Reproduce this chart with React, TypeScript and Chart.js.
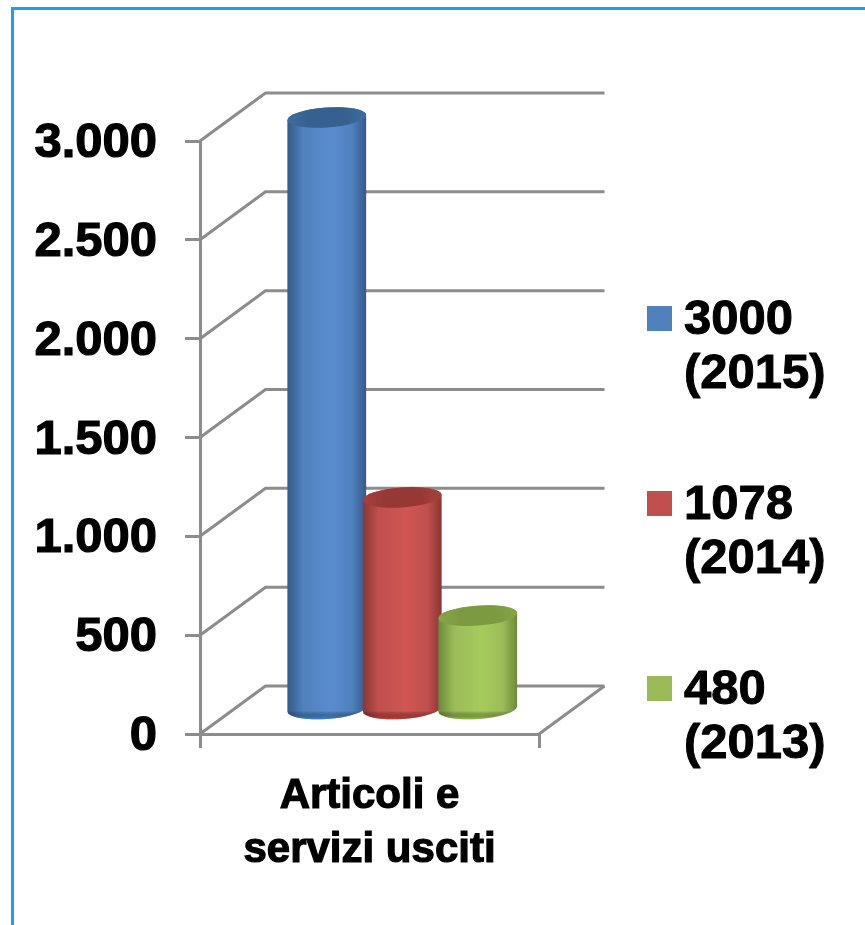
import React, { useEffect, useRef } from "react";
import { Chart, registerables } from "chart.js";

Chart.register(...registerables);

const categories: (string | string[])[] = [["Articoli e", "servizi usciti"]];
const seriesNames = ["2015", "2014", "2013"];
const values2015 = [3000];
const values2014 = [1078];
const values2013 = [480];
const legendLines = [
  ["3000", "(2015)"],
  ["1078", "(2014)"],
  ["480", "(2013)"],
];
const baseColors = ["#4f81bd", "#c0504d", "#9bbb59"];
const edgeColors = ["#35598a", "#8b3533", "#6d8a3a"];
const midColors = ["#5a8dd0", "#d05652", "#a6cc5c"];
const capColors = ["#3f6c9f", "#a8403d", "#86a646"];
const capDarkColors = ["#36608f", "#983836", "#7c9a40"];
const rimColors = ["#3f93e6", "#d8403c", "#9fd04e"];
const yTicks = { min: 0, max: 3000, stepSize: 500 };

const DEPTH_X = 65.5;
const DEPTH_Y = -48;
const GRID = "#8c8c8c";
const FONT = "'Liberation Sans', Arial, sans-serif";

const depthPlugin = {
  id: "depth",
  beforeDatasetsDraw(chart: any) {
    const { ctx, chartArea, scales } = chart;
    ctx.save();
    ctx.strokeStyle = GRID;
    ctx.lineWidth = 3;
    ctx.lineJoin = "round";
    scales.y.ticks.forEach((t: any) => {
      const y = scales.y.getPixelForValue(t.value);
      ctx.beginPath();
      ctx.moveTo(chartArea.left, y);
      ctx.lineTo(chartArea.left + DEPTH_X, y + DEPTH_Y);
      ctx.lineTo(chartArea.right + DEPTH_X, y + DEPTH_Y);
      ctx.stroke();
    });
    const y0 = scales.y.getPixelForValue(0);
    ctx.beginPath();
    ctx.moveTo(chartArea.right, y0);
    ctx.lineTo(chartArea.right + DEPTH_X, y0 + DEPTH_Y);
    ctx.stroke();
    ctx.restore();
  },
  beforeDatasetDraw() {
    return false;
  },
  afterDatasetsDraw(chart: any) {
    const { ctx } = chart;
    const rot = -0.07;
    chart.data.datasets.forEach((_: any, i: number) => {
      const meta = chart.getDatasetMeta(i);
      meta.data.forEach((bar: any) => {
        const cx = bar.x + DEPTH_X / 2;
        const ty = bar.y - 23.5;
        const by = bar.base - 23.5;
        const rx = bar.width / 2;
        const ry = 10;
        const side = ctx.createLinearGradient(cx - rx, 0, cx + rx, 0);
        side.addColorStop(0, edgeColors[i]);
        side.addColorStop(0.2, baseColors[i]);
        side.addColorStop(0.55, midColors[i]);
        side.addColorStop(0.82, baseColors[i]);
        side.addColorStop(1, edgeColors[i]);
        ctx.save();
        ctx.filter = "blur(0.7px)";
        ctx.beginPath();
        ctx.ellipse(cx, by, rx, ry, rot, 0, Math.PI);
        ctx.ellipse(cx, ty, rx, ry, rot, Math.PI, Math.PI * 2);
        ctx.closePath();
        ctx.fillStyle = side;
        ctx.fill();
        ctx.restore();
        ctx.save();
        ctx.beginPath();
        ctx.ellipse(cx, by, rx, ry, rot, 0, Math.PI);
        ctx.ellipse(cx, ty, rx, ry, rot, Math.PI, Math.PI * 2);
        ctx.closePath();
        ctx.clip();
        const rim = ctx.createLinearGradient(0, by + 2, 0, by + ry + 1);
        rim.addColorStop(0, "rgba(0,0,0,0)");
        rim.addColorStop(1, rimColors[i]);
        ctx.fillStyle = rim;
        ctx.fillRect(cx - rx, by + 2, rx * 2, ry + 2);
        ctx.restore();
        ctx.save();
        ctx.filter = "blur(0.7px)";
        const cap = ctx.createRadialGradient(cx, ty + 3, 2, cx, ty + 1, rx);
        cap.addColorStop(0, capDarkColors[i]);
        cap.addColorStop(0.45, capDarkColors[i]);
        cap.addColorStop(1, capColors[i]);
        ctx.beginPath();
        ctx.ellipse(cx, ty, rx, ry, rot, 0, Math.PI * 2);
        ctx.fillStyle = cap;
        ctx.fill();
        ctx.restore();
      });
    });
  },
};

const legendPlugin = {
  id: "sideLegend",
  afterDraw(chart: any) {
    const { ctx } = chart;
    const tops = [306, 491, 676];
    ctx.save();
    ctx.font = `bold 49px ${FONT}`;
    ctx.textBaseline = "alphabetic";
    ctx.textAlign = "left";
    ctx.lineWidth = 1;
    ctx.strokeStyle = "#000";
    ctx.lineJoin = "round";
    legendLines.forEach((lines, i) => {
      ctx.fillStyle = baseColors[i];
      ctx.fillRect(647, tops[i], 25, 25);
      ctx.fillStyle = "#000";
      lines.forEach((line, j) => {
        ctx.fillText(line, 684, tops[i] + 28 + j * 54);
        ctx.strokeText(line, 684, tops[i] + 28 + j * 54);
      });
    });
    ctx.restore();
  },
};

export default function App() {
  const ref = useRef<HTMLCanvasElement>(null);
  useEffect(() => {
    const chart = new Chart(ref.current!, {
      type: "bar",
      data: {
        labels: categories as any,
        datasets: [values2015, values2014, values2013].map((data, i) => ({
          label: seriesNames[i],
          data,
          backgroundColor: baseColors[i],
          categoryPercentage: 0.668,
          barPercentage: 1.046,
        })),
      },
      options: {
        animation: false,
        responsive: false,
        layout: { autoPadding: false, padding: { top: 141, right: 326, left: 0, bottom: 0 } },
        plugins: { legend: { display: false }, tooltip: { enabled: false } },
        scales: {
          x: {
            afterFit: (s: any) => { s.height = 191; },
            grid: { drawOnChartArea: false, drawTicks: true, tickLength: 14, color: GRID, lineWidth: 3 },
            border: { display: true, color: GRID, width: 3 },
            ticks: {
              color: "#000",
              maxRotation: 0,
              padding: 21,
              textStrokeColor: "#000",
              textStrokeWidth: 1.2,
              font: { family: FONT, weight: "bold", size: 42, lineHeight: 1.286 },
            },
          },
          y: {
            min: yTicks.min,
            max: yTicks.max,
            afterFit: (s: any) => { s.width = 200; },
            grid: { drawOnChartArea: false, drawTicks: true, tickLength: 15, color: GRID, lineWidth: 3 },
            border: { display: true, color: GRID, width: 3 },
            ticks: {
              stepSize: yTicks.stepSize,
              color: "#000",
              padding: 28,
              labelOffset: 2.5,
              textStrokeColor: "#000",
              textStrokeWidth: 1.2,
              font: { family: FONT, weight: "bold", size: 49 },
              callback: (v: any) => String(v).replace(/\B(?=(\d{3})+$)/g, "."),
            },
          },
        },
      },
      plugins: [depthPlugin, legendPlugin],
    } as any);
    return () => chart.destroy();
  }, []);
  return (
    <div style={{ position: "absolute", left: 0, top: 0, width: 865, height: 925, overflow: "hidden", background: "#fff" }}>
      <canvas ref={ref} width={865} height={925} style={{ position: "absolute", left: 0, top: 0 }} />
      <div style={{ position: "absolute", left: 11, top: 7, width: 860, height: 930, borderLeft: "3px solid #1c9cf2", borderTop: "3px solid #1c9cf2" }} />
    </div>
  );
}
